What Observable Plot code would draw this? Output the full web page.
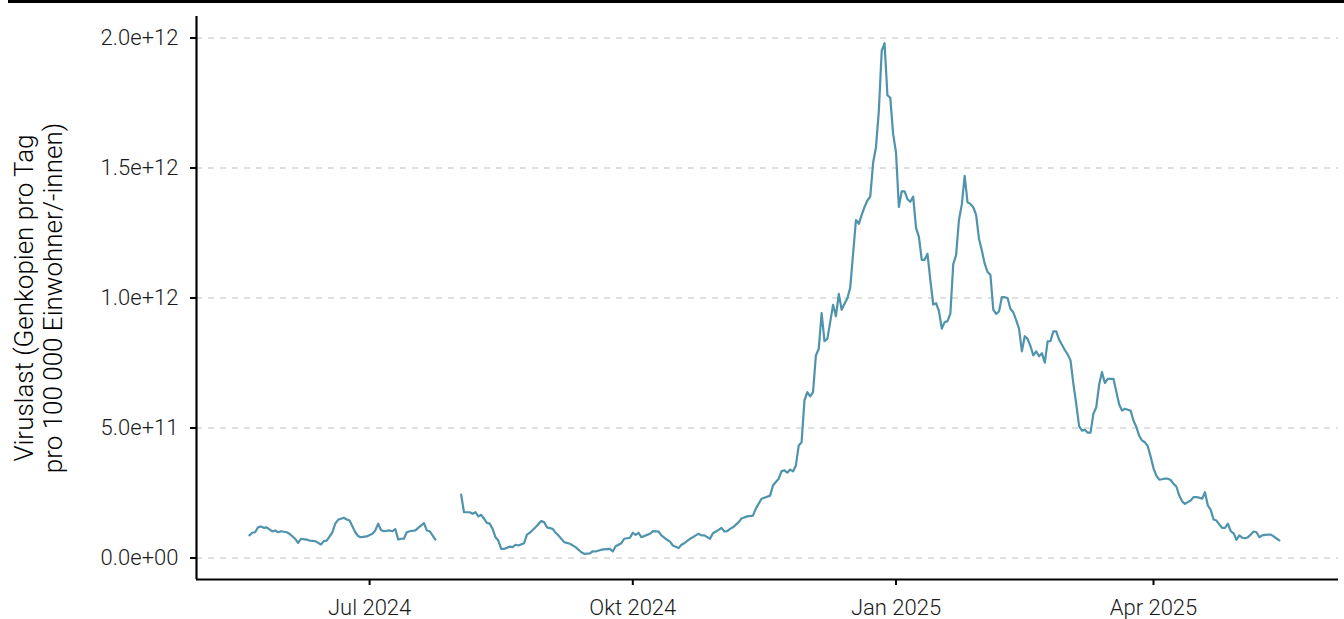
<!DOCTYPE html>
<html><head><meta charset="utf-8">
<script src="https://cdn.jsdelivr.net/npm/d3@7"></script>
<script src="https://cdn.jsdelivr.net/npm/@observablehq/plot@0.6"></script>
<style>
html,body{margin:0;padding:0;background:#fff;}
#topline{margin-left:8px;border-top:3px solid #000;height:0;}
#chart svg{display:block;}
</style></head><body>
<div id="topline"></div>
<div id="chart"></div>
<script>
// Virus load (gene copies per day per 100 000 inhabitants), values in units of 1e12
const segment1Dates = ["2024-05-20","2024-05-21","2024-05-22","2024-05-23","2024-05-24","2024-05-25","2024-05-26","2024-05-28","2024-05-29","2024-05-30","2024-05-31","2024-06-02","2024-06-03","2024-06-05","2024-06-06","2024-06-07","2024-06-09","2024-06-10","2024-06-12","2024-06-14","2024-06-15","2024-06-16","2024-06-18","2024-06-19","2024-06-20","2024-06-22","2024-06-23","2024-06-24","2024-06-26","2024-06-27","2024-06-28","2024-06-30","2024-07-02","2024-07-03","2024-07-04","2024-07-05","2024-07-06","2024-07-08","2024-07-09","2024-07-10","2024-07-11","2024-07-12","2024-07-13","2024-07-14","2024-07-15","2024-07-17","2024-07-18","2024-07-20","2024-07-21","2024-07-22","2024-07-23","2024-07-24"];
const segment1Values = [0.087,0.097,0.099,0.118,0.121,0.116,0.118,0.102,0.106,0.099,0.103,0.099,0.093,0.074,0.058,0.074,0.071,0.067,0.065,0.052,0.065,0.067,0.099,0.132,0.147,0.155,0.148,0.144,0.099,0.084,0.080,0.083,0.093,0.106,0.132,0.108,0.103,0.106,0.103,0.111,0.071,0.074,0.074,0.099,0.103,0.106,0.116,0.134,0.106,0.103,0.087,0.071];

const segment2Dates = ["2024-08-02","2024-08-03","2024-08-05","2024-08-06","2024-08-07","2024-08-08","2024-08-09","2024-08-10","2024-08-11","2024-08-12","2024-08-13","2024-08-14","2024-08-15","2024-08-16","2024-08-17","2024-08-19","2024-08-20","2024-08-21","2024-08-22","2024-08-24","2024-08-25","2024-08-26","2024-08-28","2024-08-30","2024-08-31",
"2024-09-01","2024-09-03","2024-09-04","2024-09-05","2024-09-06","2024-09-07","2024-09-09","2024-09-11","2024-09-13","2024-09-14","2024-09-16","2024-09-17","2024-09-18","2024-09-20","2024-09-21","2024-09-23","2024-09-24","2024-09-25","2024-09-27","2024-09-28","2024-09-30",
"2024-10-01","2024-10-02","2024-10-03","2024-10-04","2024-10-06","2024-10-07","2024-10-08","2024-10-10","2024-10-11","2024-10-13","2024-10-14","2024-10-15","2024-10-17","2024-10-18","2024-10-19","2024-10-21","2024-10-22","2024-10-23","2024-10-24","2024-10-25","2024-10-26","2024-10-28","2024-10-29","2024-10-31",
"2024-11-01","2024-11-02","2024-11-03","2024-11-04","2024-11-05","2024-11-07","2024-11-08","2024-11-10","2024-11-12","2024-11-13","2024-11-15","2024-11-16","2024-11-18","2024-11-19","2024-11-20","2024-11-21","2024-11-22","2024-11-23","2024-11-24","2024-11-25","2024-11-26","2024-11-27","2024-11-28","2024-11-29","2024-11-30",
"2024-12-01","2024-12-02","2024-12-03","2024-12-04","2024-12-05","2024-12-06","2024-12-07","2024-12-08","2024-12-09","2024-12-10","2024-12-11","2024-12-12","2024-12-13","2024-12-14","2024-12-15","2024-12-16","2024-12-17","2024-12-18","2024-12-19","2024-12-20","2024-12-21","2024-12-22","2024-12-23","2024-12-24","2024-12-25","2024-12-26","2024-12-27","2024-12-28","2024-12-29","2024-12-30","2024-12-31",
"2025-01-01","2025-01-02","2025-01-03","2025-01-04","2025-01-05","2025-01-06","2025-01-07","2025-01-08","2025-01-09","2025-01-10","2025-01-11","2025-01-12","2025-01-13","2025-01-14","2025-01-15","2025-01-16","2025-01-17","2025-01-18","2025-01-19","2025-01-20","2025-01-21","2025-01-22","2025-01-23","2025-01-24","2025-01-25","2025-01-26","2025-01-27","2025-01-28","2025-01-29","2025-01-30","2025-01-31",
"2025-02-01","2025-02-02","2025-02-03","2025-02-04","2025-02-05","2025-02-06","2025-02-07","2025-02-08","2025-02-09","2025-02-10","2025-02-11","2025-02-12","2025-02-13","2025-02-14","2025-02-15","2025-02-16","2025-02-17","2025-02-18","2025-02-19","2025-02-20","2025-02-21","2025-02-22","2025-02-23","2025-02-24","2025-02-25","2025-02-26","2025-02-27","2025-02-28",
"2025-03-01","2025-03-02","2025-03-03","2025-03-04","2025-03-05","2025-03-06","2025-03-07","2025-03-08","2025-03-09","2025-03-10","2025-03-11","2025-03-12","2025-03-13","2025-03-14","2025-03-15","2025-03-16","2025-03-17","2025-03-18","2025-03-19","2025-03-20","2025-03-21","2025-03-22","2025-03-23","2025-03-24","2025-03-25","2025-03-26","2025-03-27","2025-03-28","2025-03-29","2025-03-30","2025-03-31",
"2025-04-01","2025-04-02","2025-04-03","2025-04-04","2025-04-05","2025-04-06","2025-04-07","2025-04-08","2025-04-09","2025-04-10","2025-04-11","2025-04-12","2025-04-13","2025-04-14","2025-04-15","2025-04-16","2025-04-17","2025-04-18","2025-04-19","2025-04-20","2025-04-21","2025-04-22","2025-04-23","2025-04-24","2025-04-25","2025-04-26","2025-04-27","2025-04-28","2025-04-29","2025-04-30",
"2025-05-01","2025-05-02","2025-05-03","2025-05-04","2025-05-05","2025-05-06","2025-05-07","2025-05-08","2025-05-09","2025-05-10","2025-05-11","2025-05-12","2025-05-13","2025-05-14","2025-05-15"];
const segment2Values = [0.244,0.176,0.176,0.170,0.176,0.160,0.166,0.151,0.135,0.132,0.112,0.080,0.067,0.035,0.035,0.044,0.042,0.051,0.048,0.057,0.090,0.097,0.118,0.142,0.138,
0.118,0.112,0.097,0.087,0.074,0.061,0.055,0.042,0.022,0.016,0.018,0.026,0.025,0.032,0.033,0.035,0.025,0.045,0.057,0.074,0.078,
0.097,0.089,0.097,0.080,0.089,0.093,0.103,0.102,0.087,0.070,0.063,0.048,0.038,0.051,0.057,0.074,0.080,0.087,0.093,0.087,0.087,0.074,0.095,0.108,
0.116,0.102,0.103,0.112,0.118,0.138,0.152,0.160,0.163,0.190,0.228,0.232,0.240,0.279,0.292,0.305,0.334,0.337,0.328,0.340,0.333,0.356,0.433,0.445,0.606,
0.638,0.622,0.638,0.779,0.805,0.942,0.834,0.843,0.907,0.974,0.930,1.016,0.955,0.978,0.999,1.040,1.170,1.300,1.285,1.320,1.350,1.375,1.390,1.520,1.580,1.720,1.950,1.980,1.780,1.770,1.630,
1.560,1.350,1.410,1.410,1.380,1.370,1.390,1.270,1.235,1.147,1.147,1.170,1.070,0.975,0.980,0.950,0.882,0.907,0.911,0.940,1.130,1.165,1.300,1.360,1.470,1.368,1.362,1.349,1.320,1.228,1.183,
1.132,1.100,1.089,0.955,0.939,0.948,1.003,1.003,1.000,0.958,0.945,0.915,0.882,0.795,0.853,0.843,0.815,0.779,0.795,0.776,0.788,0.751,0.833,0.834,0.872,0.872,0.840,0.820,
0.800,0.783,0.760,0.670,0.593,0.507,0.490,0.493,0.482,0.482,0.555,0.580,0.667,0.715,0.673,0.689,0.689,0.689,0.640,0.590,0.567,0.574,0.570,0.567,0.529,0.504,0.470,0.452,0.445,0.430,0.390,
0.345,0.317,0.301,0.303,0.305,0.305,0.300,0.285,0.275,0.240,0.218,0.208,0.215,0.221,0.234,0.234,0.232,0.228,0.253,0.202,0.185,0.148,0.144,0.129,0.116,0.116,0.132,0.103,0.095,0.070,
0.087,0.078,0.076,0.080,0.090,0.102,0.099,0.080,0.087,0.089,0.090,0.090,0.083,0.075,0.068];

const valueUnit = 1e12;
const xTickDates = ["2024-07-01","2024-10-01","2025-01-01","2025-04-01"];
const xTickLabels = ["Jul 2024","Okt 2024","Jan 2025","Apr 2025"];
const yTickValues = [0, 5e11, 1e12, 1.5e12, 2e12];
const yTickLabels = ["0.0e+00","5.0e+11","1.0e+12","1.5e+12","2.0e+12"];
const yTitle = ["Viruslast (Genkopien pro Tag", "pro 100\u2009000 Einwohner/-innen)"];

const table = [
  ...segment1Dates.map((d, i) => ({date: new Date(d), value: segment1Values[i] * valueUnit, segment: 1})),
  ...segment2Dates.map((d, i) => ({date: new Date(d), value: segment2Values[i] * valueUnit, segment: 2}))
];

const xTicks = xTickDates.map(d => new Date(d));
const xLabelMap = new Map(xTicks.map((d, i) => [+d, xTickLabels[i]]));
const yLabelMap = new Map(yTickValues.map((v, i) => [v, yTickLabels[i]]));

const xDomain = [new Date("2024-05-01T12:00Z"), new Date("2025-06-04T16:00Z")];
const yDomain = [-0.0827e12, 2.0827e12];

const chart = Plot.plot({
  width: 1344,
  height: 616,
  marginTop: 13,
  marginBottom: 40,
  marginLeft: 196,
  marginRight: 6,
  style: {fontFamily: "Roboto, sans-serif", fontSize: "22px", fontWeight: 300, color: "#1a1a1a", background: "#fff"},
  x: {type: "utc", domain: xDomain},
  y: {domain: yDomain},
  marks: [
    Plot.gridY(yTickValues, {stroke: "#d6d6d6", strokeOpacity: 1, strokeWidth: 1.4, strokeDasharray: "6,6"}),
    Plot.line(table, {x: "date", y: "value", z: "segment", stroke: "#4f93ac", strokeWidth: 2.2, curve: "linear"}),
    Plot.ruleX([xDomain[0]], {stroke: "#000", strokeWidth: 2.2}),
    Plot.ruleY([yDomain[0]], {stroke: "#000", strokeWidth: 2.2}),
    Plot.axisY({ticks: yTickValues, tickFormat: v => yLabelMap.get(v), tickSize: 6, tickPadding: 12, stroke: "#000", strokeWidth: 2, label: null, fontSize: 22}),
    Plot.axisX({ticks: xTicks, tickFormat: d => xLabelMap.get(+d), tickSize: 6, tickPadding: 14, stroke: "#000", strokeWidth: 2, label: null, fontSize: 22}),
    Plot.text([yTitle.join("\n")], {frameAnchor: "left", text: d => d, rotate: -90, dx: -158, lineHeight: 1.12, fill: "#000", fontSize: 26, textAnchor: "middle"})
  ]
});
document.getElementById("chart").appendChild(chart);
</script>
</body></html>
